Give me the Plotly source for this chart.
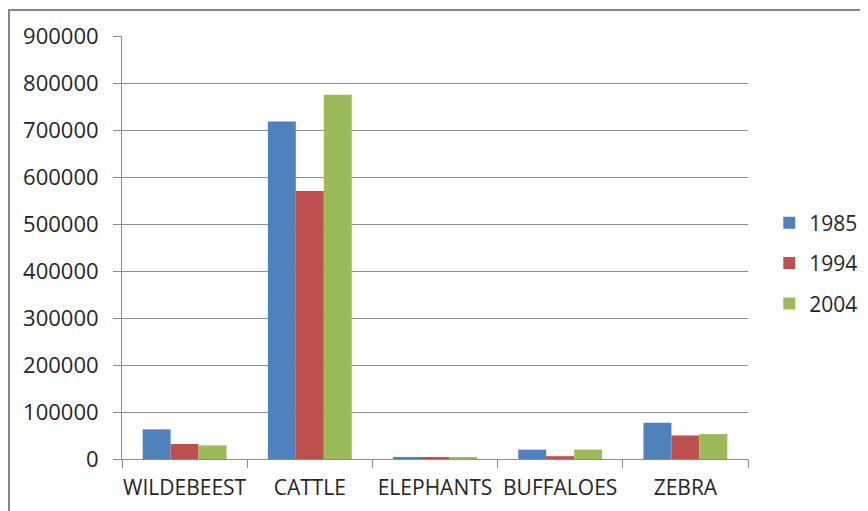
import plotly.graph_objects as go

# Data
animals = ["WILDEBEEST", "CATTLE", "ELEPHANTS", "BUFFALOES", "ZEBRA"]
years = ["1985", "1994", "2004"]
counts_1985 = [63000, 718000, 3000, 20000, 77000]
counts_1994 = [32000, 570000, 3000, 6000, 50000]
counts_2004 = [29000, 775000, 3000, 20000, 53000]
colors = ["#4F81BD", "#C0504D", "#9BBB59"]

FONT = "Open Sans"
TEXT_COLOR = "#262626"
GRID = "#8C8C8C"

fig = go.Figure()
for year, vals, col in zip(years, [counts_1985, counts_1994, counts_2004], colors):
    fig.add_trace(go.Bar(
        x=animals, y=vals, name=year, legendgroup=year,
        marker=dict(color=col, line=dict(width=0)),
    ))

# page body has an 8px margin, so the margins are shifted to compensate
fig.update_layout(
    width=868, height=511,
    margin=dict(l=114, r=128, t=28, b=60, autoexpand=False),
    paper_bgcolor="white", plot_bgcolor="white",
    barmode="group", bargap=0.33, bargroupgap=0,
    font=dict(family=FONT, size=21, color=TEXT_COLOR),
    legend=dict(
        x=1.034, xanchor="left", y=0.463, yanchor="middle",
        font=dict(family=FONT, size=21, color=TEXT_COLOR),
        tracegroupgap=10, bgcolor="rgba(0,0,0,0)",
    ),
    xaxis=dict(
        type="category", tickson="boundaries", ticks="outside", ticklen=8,
        tickcolor=GRID, showgrid=False, showline=True, linecolor=GRID,
        linewidth=1, tickangle=0, automargin=False, ticklabelstandoff=10,
        tickfont=dict(family=FONT, size=21, color=TEXT_COLOR),
    ),
    yaxis=dict(
        range=[0, 900000], dtick=100000, tickformat="d",
        ticks="outside", ticklen=8, tickcolor=GRID, automargin=False,
        showgrid=True, gridcolor=GRID, gridwidth=1, ticklabelstandoff=10,
        showline=True, linecolor=GRID, linewidth=1, zeroline=False,
        tickfont=dict(family=FONT, size=22, color=TEXT_COLOR),
    ),
    shapes=[dict(
        type="rect", xref="paper", yref="paper",
        x0=-0.1805, x1=1.3, y0=-0.3, y1=1.0615,
        line=dict(color="#868686", width=2), fillcolor="rgba(0,0,0,0)",
    )],
)

fig.write_html("out.html")
